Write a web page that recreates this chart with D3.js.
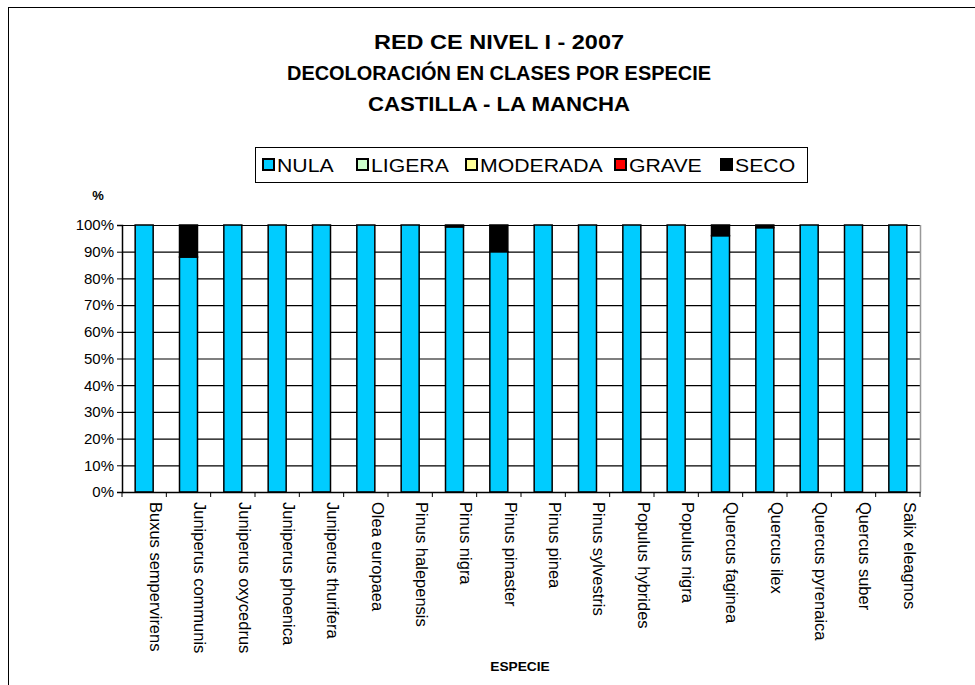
<!DOCTYPE html>
<html>
<head>
<meta charset="utf-8">
<script src="https://cdn.jsdelivr.net/npm/d3@7"></script>
<style>
  body { margin: 0; background: #fff; }
  svg text { font-family: "Liberation Sans", Arial, sans-serif; }
</style>
</head>
<body>
<div id="chart"></div>
<script>
// data (percent per species)
const species = ["Buxus sempervirens", "Juniperus communis", "Juniperus oxycedrus", "Juniperus phoenica",
  "Juniperus thurifera", "Olea europaea", "Pinus halepensis", "Pinus nigra", "Pinus pinaster", "Pinus pinea",
  "Pinus sylvestris", "Populus hybrides", "Populus nigra", "Quercus faginea", "Quercus ilex",
  "Quercus pyrenaica", "Quercus suber", "Salix eleagnos"];
const classes = ["NULA", "LIGERA", "MODERADA", "GRAVE", "SECO"];
const nula     = [100, 88, 100, 100, 100, 100, 100, 99.3, 90, 100, 100, 100, 100, 96, 99, 100, 100, 100];
const ligera   = [0, 0, 0, 0, 0, 0, 0, 0, 0, 0, 0, 0, 0, 0, 0, 0, 0, 0];
const moderada = [0, 0, 0, 0, 0, 0, 0, 0, 0, 0, 0, 0, 0, 0, 0, 0, 0, 0];
const grave    = [0, 0, 0, 0, 0, 0, 0, 0, 0, 0, 0, 0, 0, 0, 0, 0, 0, 0];
const seco     = [0, 12, 0, 0, 0, 0, 0, 0.7, 10, 0, 0, 0, 0, 4, 1, 0, 0, 0];
const yTicks = [0, 10, 20, 30, 40, 50, 60, 70, 80, 90, 100];
const titleLines = ["RED CE NIVEL I - 2007", "DECOLORACIÓN EN CLASES POR ESPECIE", "CASTILLA - LA MANCHA"];

const width = 975, height = 685;
const margin = {top: 225, right: 55, bottom: 193, left: 122};
const colors = {NULA: "#00ccff", LIGERA: "#ccffcc", MODERADA: "#ffff99", GRAVE: "#ff0000", SECO: "#000000"};
const titleWidths = [250, 424, 262];

const rows = species.map((s, i) => ({
  species: s, NULA: nula[i], LIGERA: ligera[i], MODERADA: moderada[i], GRAVE: grave[i], SECO: seco[i]
}));

const svg = d3.select("#chart").append("svg")
  .attr("width", width)
  .attr("height", height);

// outer frame
svg.append("rect")
  .attr("x", 8.5).attr("y", 7.5)
  .attr("width", 990).attr("height", 700)
  .attr("fill", "none").attr("stroke", "#000").attr("stroke-width", 1);

//Title
svg.append("g").selectAll("text")
  .data(titleLines)
  .join("text")
    .attr("x", 499)
    .attr("y", (d, i) => 49 + i * 31)
    .attr("text-anchor", "middle")
    .attr("textLength", (d, i) => titleWidths[i])
    .attr("lengthAdjust", "spacingAndGlyphs")
    .style("font-size", "20px")
    .style("font-weight", "bold")
    .text(d => d);

//Scales
const x = d3.scaleBand()
  .domain(species)
  .range([margin.left, width - margin.right])
  .paddingInner(0.594)
  .paddingOuter(0.297);

const y = d3.scaleLinear()
  .domain([0, 100])
  .range([height - margin.bottom, margin.top]);

//Gridlines
svg.append("g")
  .attr("transform", `translate(${margin.left},0)`)
  .call(d3.axisLeft(y).tickValues(yTicks.slice(1)).tickSize(-(width - margin.right - margin.left)).tickFormat(""))
  .call(g => g.select(".domain").remove())
  .call(g => g.selectAll("line").attr("stroke", "#000").attr("stroke-width", 1.2));

// right border of plot area
svg.append("line")
  .attr("x1", width - margin.right + 0.5).attr("x2", width - margin.right + 0.5)
  .attr("y1", y(100)).attr("y2", y(0))
  .attr("stroke", "#999").attr("stroke-width", 1.5);

//Stacked bars
const stack = d3.stack().keys(classes)(rows);
svg.append("g").selectAll("g")
  .data(stack)
  .join("g")
    .attr("fill", d => colors[d.key])
  .selectAll("rect")
  .data(d => d.filter(p => p[1] - p[0] > 0))
  .join("rect")
    .attr("x", d => x(d.data.species))
    .attr("y", d => y(d[1]))
    .attr("width", x.bandwidth())
    .attr("height", d => y(d[0]) - y(d[1]))
    .attr("stroke", "#000")
    .attr("stroke-width", 1.5);

//Y axis
svg.append("g")
  .attr("transform", `translate(${margin.left},0)`)
  .call(d3.axisLeft(y).tickValues(yTicks).tickSize(5).tickPadding(3).tickFormat(d => d + "%"))
  .call(g => g.select(".domain").attr("stroke", "#000").attr("stroke-width", 1.5))
  .call(g => g.selectAll("text").style("font-size", "15px").attr("fill", "#000"));

//X axis
const xAxis = svg.append("g")
  .attr("transform", `translate(0,${height - margin.bottom})`)
  .call(d3.axisBottom(x).tickSize(0).tickSizeOuter(0))
  .call(g => g.select(".domain").attr("stroke", "#000").attr("stroke-width", 1.5));
xAxis.selectAll(".tick text")
  .style("font-size", "16.5px")
  .attr("fill", "#000")
  .attr("text-anchor", "start")
  .attr("transform", "rotate(90)")
  .attr("x", 10)
  .attr("y", 0)
  .attr("dy", "-0.35em");
// tick marks between categories
const step = x.step();
xAxis.selectAll(".sep")
  .data(d3.range(species.length + 1))
  .join("line")
    .attr("class", "sep")
    .attr("x1", i => margin.left + i * step)
    .attr("x2", i => margin.left + i * step)
    .attr("y1", 0).attr("y2", 5)
    .attr("stroke", "#000").attr("stroke-width", 1);

//Axis labels
svg.append("text")
  .attr("x", 98).attr("y", 200)
  .attr("text-anchor", "middle")
  .style("font-size", "13px").style("font-weight", "bold")
  .text("%");

svg.append("text")
  .attr("transform", "translate(520,671) scale(1.1,1)")
  .attr("text-anchor", "middle")
  .style("font-size", "12.5px").style("font-weight", "bold")
  .text("ESPECIE");

//Legend
const legend = svg.append("g");
legend.append("rect")
  .attr("x", 255.5).attr("y", 147.5)
  .attr("width", 552).attr("height", 35)
  .attr("fill", "#fff").attr("stroke", "#000").attr("stroke-width", 1);
const legendX = [263, 357, 466, 615, 721];
const items = legend.selectAll("g.item")
  .data(classes)
  .join("g")
    .attr("class", "item")
    .attr("transform", (d, i) => `translate(${legendX[i]},159)`);
items.append("rect")
  .attr("width", 11).attr("height", 11)
  .attr("fill", d => colors[d])
  .attr("stroke", "#000").attr("stroke-width", 2);
items.append("text")
  .attr("transform", "translate(14,12.5) scale(1.18,1)")
  .style("font-size", "18px")
  .text(d => d);
</script>
</body>
</html>
